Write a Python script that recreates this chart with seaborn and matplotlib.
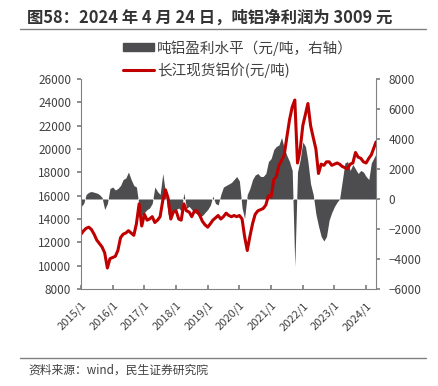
import pandas as pd
import matplotlib.pyplot as plt
from matplotlib.patches import Patch
from matplotlib.lines import Line2D
import seaborn as sns

# 长江现货铝价 (元/吨), monthly 2015/1 - 2024/4
price = [
    12700, 13000, 13200, 13300, 13100, 12700, 12200, 11900, 11600, 11100, 9800, 10600,
    10700, 10800, 11300, 12400, 12700, 12800, 13000, 12800, 12600, 13600, 15300, 13400,
    14400, 13900, 14000, 14200, 13700, 13900, 14200, 15600, 16500, 15800, 14000, 14600,
    14700, 14000, 13900, 15300, 14700, 14600, 14200, 14700, 14700, 14300, 13800, 13500,
    13300, 13600, 13900, 14100, 14300, 14000, 14200, 14500, 14300, 14200, 14300, 14200,
    14300, 14000, 12500, 11300, 12500, 13600, 14400, 14700, 14800, 14900, 15200, 16000,
    15900, 17400, 17600, 18600, 19000, 19500, 21000, 22500, 23600, 24200, 18800, 19900,
    22000, 23000, 23900, 22000, 21000, 20000, 17900, 18700, 18600, 18900, 18900, 18600,
    18700, 18800, 18700, 18500, 18400, 18300, 18700, 18800, 19700, 19300, 19200, 18900,
    18800, 19200, 19500, 20600,
]

# 吨铝盈利水平 (元/吨), right axis
profit = [
    -500, -300, 300, 450, 500, 450, 400, 300, 100, -700, -300, 700,
    800, 600, 700, 900, 1300, 1400, 1800, 1300, 900, 800, -500, -1100,
    -900, -700, -600, -300, 800, 500, 300, 1700, 400, -1000, -1400, -900,
    -700, -600, -800, 400, -600, -500, -700, -900, -1000, -1200, -1100, -900,
    -700, -400, 200, -300, -400, 300, 800, 900, 1000, 1100, 1300, 1500,
    1200, -600, -1300, 300, 700, 1300, 1600, 1700, 1500, 1500, 1700, 2500,
    2700, 3300, 3500, 3600, 4100, 3400, 2900, 2500, 1900, -4500, 1800, 2600,
    3800, 3500, 2500, 1000, 300, -1000, -1800, -2500, -2800, -2500, -1400, -900,
    -500, -200, 0, 1200, 2400, 2500, 1900, 2300, 2000, 1700, 1900, 1800,
    1500, 1300, 2400, 3009,
]

dates = list(pd.date_range("2015-01-01", "2024-03-01", freq="MS")) + [pd.Timestamp("2024-04-24")]
df = pd.DataFrame({"date": dates, "price": price, "profit": profit})

year_ticks = pd.date_range("2015-01-01", "2024-01-01", freq="YS")
year_labels = [f"{d.year}/1" for d in year_ticks]

sns.set_theme(style="white")
plt.rcParams["font.family"] = ["Noto Sans CJK SC", "DejaVu Sans"]

GRAY = "#808080"
TXT = "#404040"
AREA = "#4d4d4f"
RED = "#c00000"

fig = plt.figure(figsize=(4.38, 3.86), dpi=100)
ax = fig.add_axes([81 / 438, 1 - 289 / 386, 295 / 438, 210 / 386])
ax2 = ax.twinx()

# 盈利面积 (右轴)
ax2.fill_between(df["date"], 0, df["profit"], color=AREA, linewidth=0)
ax2.set_ylim(-6000, 8000)
ax2.set_yticks(range(-6000, 8001, 2000))

# 铝价 (左轴)
sns.lineplot(data=df, x="date", y="price", ax=ax, color=RED, linewidth=2.2, legend=False)
ax.set_ylim(8000, 26000)
ax.set_yticks(range(8000, 26001, 2000))
ax.set_xlim(pd.Timestamp("2015-01-01"), pd.Timestamp("2024-04-24"))
ax.set_xticks(year_ticks)
ax.set_xticklabels(year_labels, rotation=45, ha="right", rotation_mode="anchor")
ax.set_xlabel("")
ax.set_ylabel("")

ax.set_zorder(ax2.get_zorder() + 1)
ax.patch.set_visible(False)

for a in (ax, ax2):
    a.spines["top"].set_visible(False)
    for side in ("left", "right", "bottom"):
        a.spines[side].set_color(GRAY)
        a.spines[side].set_linewidth(0.8)
ax.spines["right"].set_visible(False)
ax2.spines["left"].set_visible(False)
ax2.spines["bottom"].set_visible(False)

ax.tick_params(axis="y", left=True, direction="out", length=3, color=GRAY,
               labelsize=8.5, labelcolor=TXT, pad=4)
ax.tick_params(axis="x", bottom=True, direction="in", length=3, color=GRAY,
               labelsize=8, labelcolor=TXT, pad=8)
ax2.tick_params(axis="y", right=True, direction="out", length=3, color=GRAY,
                labelsize=8.5, labelcolor=TXT, pad=6)

handles = [Patch(color=AREA), Line2D([], [], color=RED, linewidth=2.2)]
labels = ["吨铝盈利水平（元/吨，右轴）", "长江现货铝价(元/吨)"]
leg = fig.legend(handles, labels, loc="upper left", bbox_to_anchor=(123 / 438, 1 - 40 / 386),
                 frameon=False, fontsize=10.5, handlelength=2.1, handleheight=0.45,
                 handletextpad=0.25, labelspacing=0.45, borderpad=0, borderaxespad=0)
for t in leg.get_texts():
    t.set_color(TXT)

# 标题与来源
fig.text(27 / 438, 1 - 18 / 386, "图58：2024 年 4 月 24 日，吨铝净利润为 3009 元",
         fontsize=11.8, fontweight="bold", color="#333333", va="center", ha="left")
fig.add_artist(Line2D([20 / 438, 426 / 438], [1 - 29 / 386, 1 - 29 / 386],
                      color=GRAY, linewidth=1.0))
fig.add_artist(Line2D([20 / 438, 426 / 438], [1 - 358 / 386, 1 - 358 / 386],
                      color=GRAY, linewidth=1.0))
fig.text(28 / 438, 1 - 370 / 386, "资料来源：wind，民生证券研究院",
         fontsize=8.5, color=TXT, va="center", ha="left")

fig.savefig("out.png", dpi=100)
plt.close(fig)
